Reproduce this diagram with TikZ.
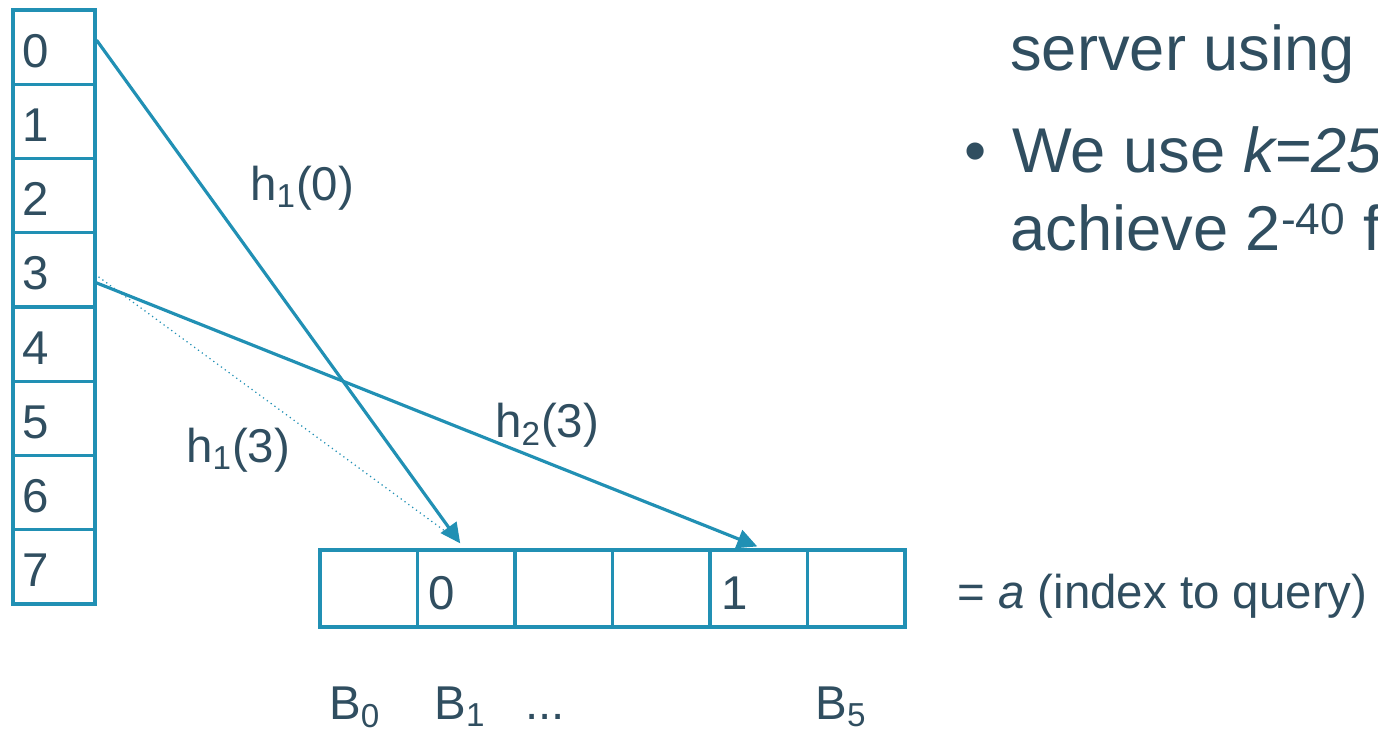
\documentclass[tikz,border=0pt]{standalone}
\usepackage{fontspec}
\setmainfont{Liberation Sans}
\usetikzlibrary{calc,arrows.meta}
\definecolor{lineteal}{RGB}{33,144,180}
\definecolor{textslate}{RGB}{48,78,96}
\begin{document}
\begin{tikzpicture}[x=0.02cm,y=-0.02cm,
 cellv/.style={draw=lineteal,line width=1.8pt,minimum width=1.64cm,minimum height=1.485cm,inner sep=0pt},
 cellh/.style={draw=lineteal,line width=1.8pt,minimum width=1.95cm,minimum height=1.54cm,inner sep=0pt},
 txt/.style={text=textslate,inner sep=0pt,anchor=base west,font=\fontsize{27}{32}\selectfont},
 big/.style={text=textslate,inner sep=0pt,anchor=base west,font=\fontsize{36}{43}\selectfont},
 arr/.style={draw=lineteal,line width=1.8pt,-{Triangle[length=0.4cm,width=0.38cm]}},
 dotln/.style={draw=lineteal,line width=0.7pt,dotted}]
\useasboundingbox (0,0) rectangle (1378,728);
\clip (0,0) rectangle (1378,728);
\foreach \i in {0,...,7} {
  \node[cellv] (c\i) at (54,{10+74.25*(\i+0.5)}) {};
  \node[txt] (n\i) at (22,{67+74.25*\i}) {\i};
}
\foreach \j in {0,...,5} {
  \node[cellh] (b\j) at ({320+97.5*(\j+0.5)},588.5) {};
}
\node[txt] (v1) at (428,609) {0};
\node[txt] (v4) at (721,609) {1};
\node[txt] (lb0) at (329,719) {B\textsubscript{0}};
\node[txt] (lb1) at (434,719) {B\textsubscript{1}};
\node[txt] (ldots) at (525,719) {...};
\node[txt] (lb5) at (815,719) {B\textsubscript{5}};
\node[txt] (eq) at (957,608) {= \textit{a} (index to query)};
\draw[arr] ($(c0.east)+(0,-7)$) -- ($(b1.north)+(-6,-5)$);
\draw[dotln] ($(c3.east)+(2,7)$) -- ($(b1.north)+(-14,-12)$);
\draw[arr] ($(c3.east)+(0,13)$) -- ($(b4.north)+(-1.5,-2)$);
\node[txt] (h10) at (250,200) {h\textsubscript{1}(0)};
\node[txt] (h13) at (186,462) {h\textsubscript{1}(3)};
\node[txt] (h23) at (495,437) {h\textsubscript{2}(3)};
\node[big] (l1) at (1010,70) {server using};
\node[big] (bul) at (964,172) {•};
\node[big] (l2) at (1012,172) {We use \textit{k=25}};
\node[big] (l3) at (1010,250) {achieve 2\textsuperscript{-40} f};
\end{tikzpicture}
\end{document}
